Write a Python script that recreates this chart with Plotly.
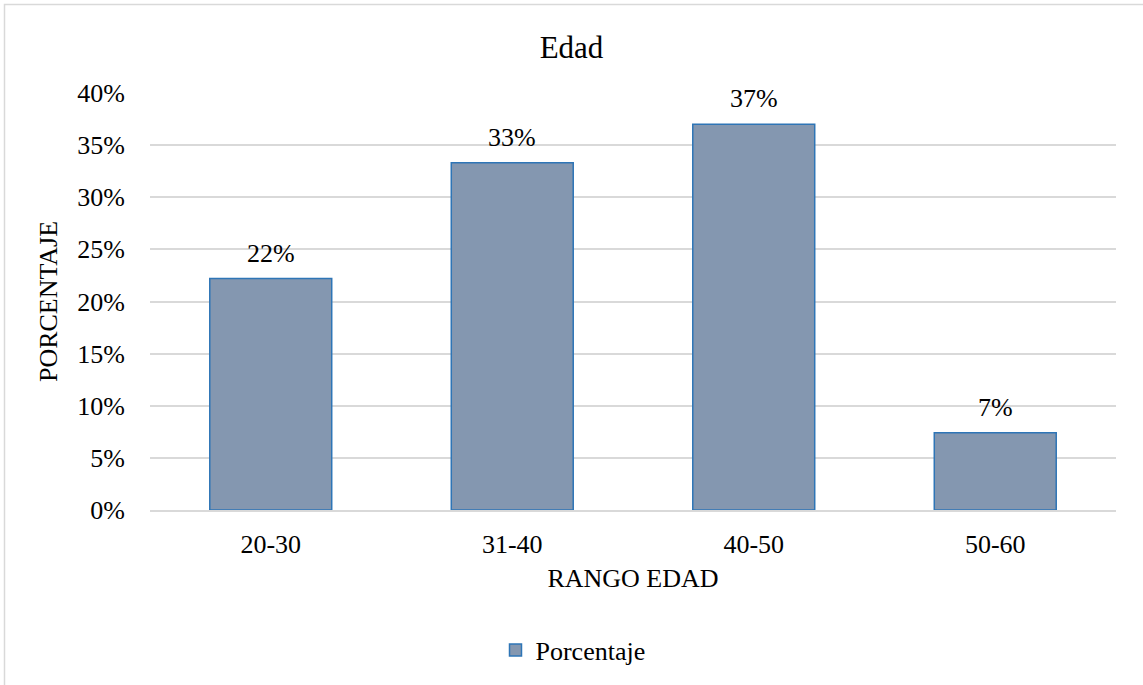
import plotly.graph_objects as go

categories = ["20-30", "31-40", "40-50", "50-60"]
values = [0.222, 0.333, 0.370, 0.074]
labels = ["22%", "33%", "37%", "7%"]
tick_vals = [0, 0.05, 0.10, 0.15, 0.20, 0.25, 0.30, 0.35, 0.40]
tick_text = ["0%", "5%", "10%", "15%", "20%", "25%", "30%", "35%", "40%"]

FONT = "Liberation Serif, Times New Roman, serif"
FS = 26

fig = go.Figure()
fig.add_trace(go.Bar(
    x=categories, y=values, name="Porcentaje",
    marker=dict(color="#8497B0", line=dict(color="#2E75B6", width=1.5)),
))

for c, v, t in zip(categories, values, labels):
    fig.add_annotation(x=c, y=v, text=t, showarrow=False, yanchor="bottom",
                       yshift=9, font=dict(family=FONT, size=FS, color="#000000"))

fig.update_layout(
    width=1143, height=685,
    margin=dict(l=150, r=27, t=93, b=175),
    paper_bgcolor="white", plot_bgcolor="white",
    font=dict(family=FONT, size=FS, color="#000000"),
    bargap=0.495,
    title=dict(text="Edad", x=0.5, xanchor="center", y=1 - 47 / 685, yanchor="middle",
               font=dict(family=FONT, size=31, color="#000000")),
    showlegend=True,
    legend=dict(orientation="h", x=0.5 - 60 / 966, xanchor="center", y=(510 - 650) / 417,
                yanchor="middle", font=dict(family=FONT, size=FS, color="#000000")),
    xaxis=dict(title=dict(text="RANGO EDAD", standoff=11, font=dict(family=FONT, size=FS)),
               showgrid=False, showline=True, linecolor="#D9D9D9", linewidth=1.5,
               ticks="", ticklabelstandoff=10, tickfont=dict(family=FONT, size=FS)),
    yaxis=dict(title=dict(text="PORCENTAJE", standoff=12, font=dict(family=FONT, size=FS)),
               range=[0, 0.4], tickvals=tick_vals, ticktext=tick_text,
               showgrid=True, gridcolor="#D9D9D9", gridwidth=1.5,
               zeroline=False, showline=False, ticks="", ticklabelstandoff=24,
               tickfont=dict(family=FONT, size=FS)),
    shapes=[dict(type="rect", xref="paper", yref="paper",
                 x0=(4.5 - 150) / 966, x1=(1150 - 150) / 966,
                 y0=(510 - 700) / 417, y1=(510 - 4.5) / 417,
                 line=dict(color="#D9D9D9", width=1.5), fillcolor="rgba(0,0,0,0)",
                 layer="below")],
)

fig.write_html("out.html", config={"displayModeBar": False},
               post_script="document.body.style.margin='0';")
